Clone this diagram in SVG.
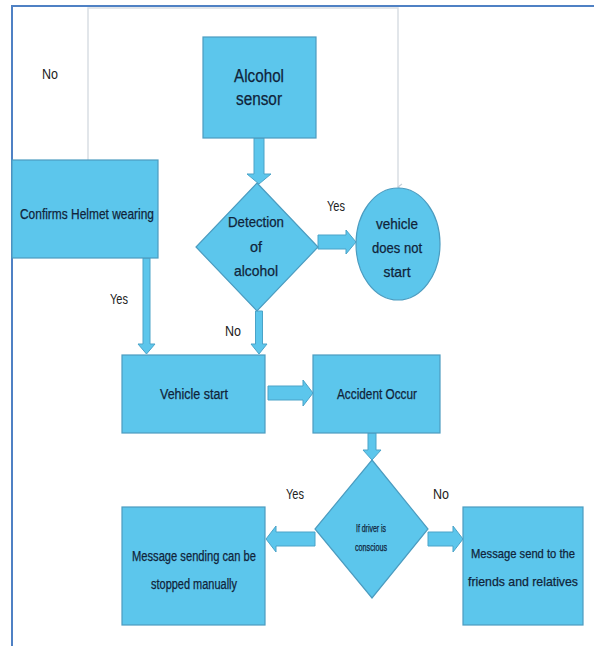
<svg xmlns="http://www.w3.org/2000/svg" width="594" height="646" viewBox="0 0 594 646">
<defs>
<style>
.n{fill:#5cc6ec;stroke:#4b9cc0;stroke-width:1.2}
.a{fill:#5cc6ec;stroke:#4aa3c8;stroke-width:1}
.t{font-family:"Liberation Sans",Arial,sans-serif;fill:#10243a;stroke:#10243a;stroke-width:0.25;text-anchor:middle}
.l{font-family:"Liberation Sans",Arial,sans-serif;fill:#222;text-anchor:middle;font-size:15px}
.thin{fill:none;stroke:#d9dee4;stroke-width:1.5}
</style>
<marker id="ah" markerWidth="8" markerHeight="8" refX="4" refY="6" orient="auto" markerUnits="userSpaceOnUse" viewBox="0 0 8 8">
<path d="M1,2 L4,6 L7,2" fill="none" stroke="#c7d0da" stroke-width="1.2"/>
</marker>
</defs>
<rect width="594" height="646" fill="#fff"/>
<path d="M12,646 V6 H594" fill="none" stroke="#4f81c4" stroke-width="2"/>

<g id="connectors">
<path class="thin" d="M88,160 V8 H398 V187" marker-end="url(#ah)"/>
<polygon class="a" points="254,138 264,138 264,174 271,174 259,184 247,174 254,174"/>
<polygon class="a" points="143,258 150,258 150,344 155,344 146.5,354 138,344 143,344"/>
<polygon class="a" points="255.5,311 262.5,311 262.5,344 267,344 259,354 251,344 255.5,344"/>
<polygon class="a" points="318,235 346,235 346,230 356,242 346,254 346,249 318,249"/>
<polygon class="a" points="268,386 303,386 303,380 313,393 303,406 303,400 268,400"/>
<polygon class="a" points="368,433 376,433 376,450 381,450 372,460 363,450 368,450"/>
<polygon class="a" points="315,532 276,532 276,526 266,539 276,552 276,546 315,546"/>
<polygon class="a" points="428,532 453,532 453,526 463,539 453,552 453,546 428,546"/>
</g>

<g id="alcohol-sensor">
<rect class="n" x="203" y="37" width="113" height="101"/>
<text class="t" x="259" y="82" font-size="18" textLength="50" lengthAdjust="spacingAndGlyphs">Alcohol</text>
<text class="t" x="259" y="105" font-size="18" textLength="46" lengthAdjust="spacingAndGlyphs">sensor</text>
</g>

<g id="confirms-helmet">
<rect class="n" x="12" y="160" width="146" height="98"/>
<text class="t" x="87" y="219" font-size="15" textLength="134" lengthAdjust="spacingAndGlyphs">Confirms Helmet wearing</text>
</g>

<g id="detection">
<polygon class="n" points="257,183 318,247 257,311 196,247"/>
<text class="t" x="256" y="227" font-size="15" textLength="56" lengthAdjust="spacingAndGlyphs">Detection</text>
<text class="t" x="256" y="252" font-size="15" textLength="12" lengthAdjust="spacingAndGlyphs">of</text>
<text class="t" x="256" y="276" font-size="15" textLength="44" lengthAdjust="spacingAndGlyphs">alcohol</text>
</g>

<g id="no-start">
<ellipse class="n" cx="398" cy="244" rx="42" ry="56"/>
<text class="t" x="397" y="229" font-size="15" textLength="42" lengthAdjust="spacingAndGlyphs">vehicle</text>
<text class="t" x="397" y="253" font-size="15" textLength="50" lengthAdjust="spacingAndGlyphs">does not</text>
<text class="t" x="397" y="277" font-size="15" textLength="27" lengthAdjust="spacingAndGlyphs">start</text>
</g>

<g id="vehicle-start">
<rect class="n" x="122" y="355" width="143" height="78"/>
<text class="t" x="194" y="399" font-size="14" textLength="68" lengthAdjust="spacingAndGlyphs">Vehicle start</text>
</g>

<g id="accident">
<rect class="n" x="313" y="355" width="127" height="78"/>
<text class="t" x="377" y="399" font-size="14" textLength="80" lengthAdjust="spacingAndGlyphs">Accident Occur</text>
</g>

<g id="conscious">
<polygon class="n" points="372,460 428,529 372,598 315,529"/>
<text class="t" x="371" y="532" font-size="10" textLength="30" lengthAdjust="spacingAndGlyphs">If driver is</text>
<text class="t" x="371" y="551" font-size="10" textLength="32" lengthAdjust="spacingAndGlyphs">conscious</text>
</g>

<g id="stop-manually">
<rect class="n" x="122" y="507" width="143" height="118"/>
<text class="t" x="194" y="561" font-size="14" textLength="124" lengthAdjust="spacingAndGlyphs">Message sending can be</text>
<text class="t" x="194" y="589" font-size="14" textLength="86" lengthAdjust="spacingAndGlyphs">stopped manually</text>
</g>

<g id="send-message">
<rect class="n" x="463" y="507" width="120" height="118"/>
<text class="t" x="523" y="558" font-size="13" textLength="104" lengthAdjust="spacingAndGlyphs">Message send to the</text>
<text class="t" x="523" y="586" font-size="13" textLength="110" lengthAdjust="spacingAndGlyphs">friends and relatives</text>
</g>

<g id="labels">
<text class="l" x="50" y="79" textLength="16" lengthAdjust="spacingAndGlyphs">No</text>
<text class="l" x="336" y="211" textLength="18" lengthAdjust="spacingAndGlyphs">Yes</text>
<text class="l" x="119" y="304" textLength="18" lengthAdjust="spacingAndGlyphs">Yes</text>
<text class="l" x="233" y="336" textLength="16" lengthAdjust="spacingAndGlyphs">No</text>
<text class="l" x="295" y="499" textLength="18" lengthAdjust="spacingAndGlyphs">Yes</text>
<text class="l" x="441" y="499" textLength="16" lengthAdjust="spacingAndGlyphs">No</text>
</g>
</svg>
